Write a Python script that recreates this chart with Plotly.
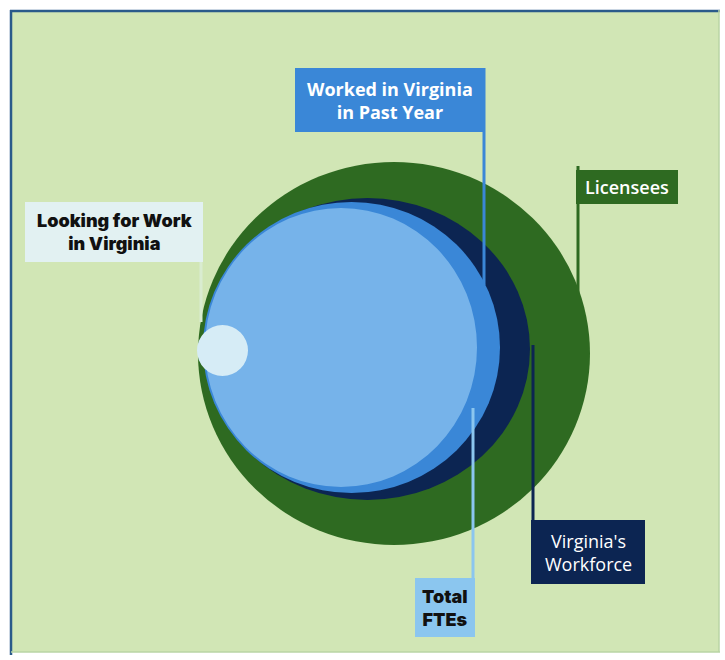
import plotly.graph_objects as go

# Nested populations, outermost first
groups = ["Licensees", "Virginia's Workforce", "Worked in Virginia in Past Year",
          "Total FTEs", "Looking for Work in Virginia"]
# circle extents (x0, x1, y0, y1) on the diagram canvas
circle_x0 = [198, 205, 203, 205, 197]
circle_x1 = [590, 530, 500, 477, 248]
circle_y0 = [162, 198, 202, 208, 325]
circle_y1 = [545, 500, 493, 487, 376]
circle_colors = ["#2e6a21", "#0c2552", "#3a87d7", "#76b3ea", "#d6ecf6"]

# Flag labels: box extents, pole line, text styling
label_text = ["Worked in Virginia<br>in Past Year", "Licensees",
              "Looking for Work<br>in Virginia", "Virginia's<br>Workforce", "Total<br>FTEs"]
box_x0 = [295, 576, 25, 531, 415]
box_x1 = [484, 678, 203, 645, 475]
box_y0 = [68, 170, 202, 520, 578]
box_y1 = [132, 204, 262, 584, 637]
pole_x = [484, 578, 201, 533, 473]
pole_y0 = [68, 166, 262, 345, 408]
pole_y1 = [285, 300, 322, 584, 637]
box_fill = ["#3a87d7", "#2e6a21", "#e2f1f2", "#0c2552", "#8bc6ef"]
pole_color = ["#3a87d7", "#2e6a21", "#d9ecd0", "#0c2552", "#8bc6ef"]
text_color = ["white", "white", "#111111", "white", "#111111"]
text_family = ["Open Sans", "Open Sans", "Inter", "Open Sans", "Inter"]
text_weight = [700, 600, 900, 500, 900]
text_size = [18, 18, 18, 18, 18]

fig = go.Figure()
fig.add_trace(go.Scatter(x=[0, 725], y=[0, 660], mode="markers",
                         marker=dict(opacity=0), hoverinfo="skip", showlegend=False))

shapes = []
# panel background and frame
shapes.append(dict(type="rect", xref="x", yref="y", x0=11, x1=719, y0=11, y1=652,
                   fillcolor="#d1e6b5", line=dict(width=0), layer="below"))
shapes.append(dict(type="line", xref="x", yref="y", x0=10, x1=720, y0=11, y1=11,
                   line=dict(color="#2a5a8a", width=2.5)))
shapes.append(dict(type="line", xref="x", yref="y", x0=11, x1=11, y0=10, y1=655,
                   line=dict(color="#2a5a8a", width=2.5)))
shapes.append(dict(type="line", xref="x", yref="y", x0=719, x1=719, y0=10, y1=652,
                   line=dict(color="#b9d4a4", width=1.5)))
shapes.append(dict(type="line", xref="x", yref="y", x0=11, x1=720, y0=652, y1=652,
                   line=dict(color="#b9d4a4", width=1.5)))

# nested circles
for x0, x1, y0, y1, c in zip(circle_x0, circle_x1, circle_y0, circle_y1, circle_colors):
    shapes.append(dict(type="circle", xref="x", yref="y", x0=x0, x1=x1, y0=y0, y1=y1,
                       fillcolor=c, line=dict(width=0)))

# flag poles
for px, py0, py1, pc in zip(pole_x, pole_y0, pole_y1, pole_color):
    shapes.append(dict(type="line", xref="x", yref="y", x0=px, x1=px, y0=py0, y1=py1,
                       line=dict(color=pc, width=3)))

# flag boxes
for bx0, bx1, by0, by1, bf in zip(box_x0, box_x1, box_y0, box_y1, box_fill):
    shapes.append(dict(type="rect", xref="x", yref="y", x0=bx0, x1=bx1, y0=by0, y1=by1,
                       fillcolor=bf, line=dict(width=0)))

annotations = []
for t, bx0, bx1, by0, by1, tc, tf, tw, ts in zip(label_text, box_x0, box_x1, box_y0, box_y1,
                                                 text_color, text_family, text_weight, text_size):
    annotations.append(dict(x=(bx0 + bx1) / 2, y=(by0 + by1) / 2, xref="x", yref="y",
                            text=t, showarrow=False, align="center",
                            font=dict(family=tf, size=ts, color=tc, weight=tw)))

fig.update_layout(
    width=725, height=660,
    margin=dict(l=0, r=0, t=0, b=0),
    paper_bgcolor="white", plot_bgcolor="white",
    xaxis=dict(range=[0, 725], visible=False, fixedrange=True),
    yaxis=dict(range=[660, 0], visible=False, fixedrange=True),
    shapes=shapes, annotations=annotations,
    showlegend=False,
)

fig.write_html("out.html")
